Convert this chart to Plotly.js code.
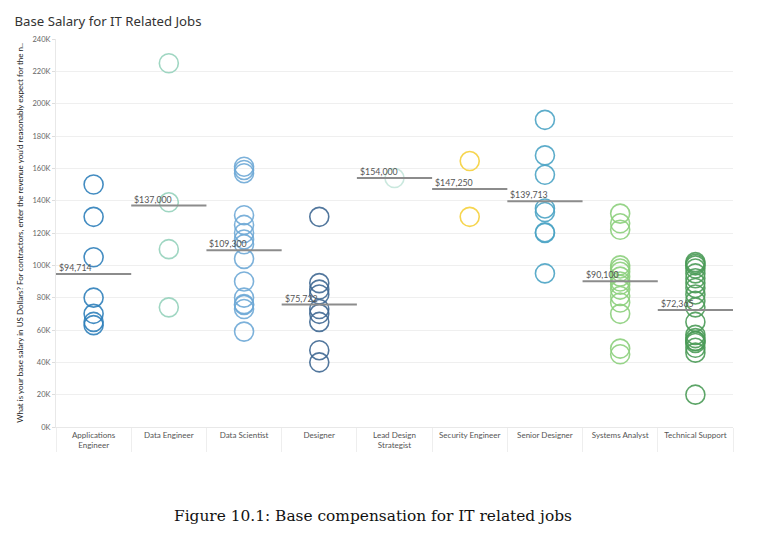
<!DOCTYPE html>
<html>
<head>
<meta charset="utf-8">
<script src="https://cdn.plot.ly/plotly-3.0.1.min.js"></script>
<style>
  html, body { margin: 0; padding: 0; background: #ffffff; }
  #chart { width: 765px; height: 550px; }
</style>
</head>
<body>
<div id="chart"></div>
<script>
// ---- Data ----
const categories = ['Applications Engineer', 'Data Engineer', 'Data Scientist', 'Designer',
  'Lead Design Strategist', 'Security Engineer', 'Senior Designer', 'Systems Analyst', 'Technical Support'];
const tickLabels = ['Applications<br>Engineer', 'Data Engineer', 'Data Scientist', 'Designer',
  'Lead Design<br>Strategist', 'Security Engineer', 'Senior Designer', 'Systems Analyst', 'Technical Support'];

const applicationsEngineer = [150000, 130000, 105000, 80000, 70000, 65000, 63000];
const dataEngineer = [225000, 139000, 110000, 74000];
const dataScientist = [161000, 159000, 157000, 131000, 125000, 120000, 116000, 113000, 104000,
  90000, 80000, 76000, 75500, 73000, 59000];
const designer = [130000, 89000, 85000, 82000, 73000, 70000, 65000, 47500, 40000];
const leadDesignStrategist = [154000];
const securityEngineer = [164500, 130000];
const seniorDesigner = [190000, 168000, 156000, 135200, 133000, 120000, 120500, 95000];
const systemsAnalyst = [132000, 126000, 122000, 100000, 98000, 96000, 93000, 90000, 88000,
  85000, 81000, 77000, 70000, 48500, 45000];
const technicalSupport = [102000, 101000, 100000, 98000, 95000, 92000, 89000, 86000, 82000,
  78000, 74000, 65000, 57000, 55000, 53300, 52000, 49000, 46000, 53000, 20000];

const seriesValues = [applicationsEngineer, dataEngineer, dataScientist, designer,
  leadDesignStrategist, securityEngineer, seniorDesigner, systemsAnalyst, technicalSupport];

const yTickValues = [0, 20000, 40000, 60000, 80000, 100000, 120000, 140000, 160000, 180000, 200000, 220000, 240000];
const yTickLabels = ['0K', '20K', '40K', '60K', '80K', '100K', '120K', '140K', '160K', '180K', '200K', '220K', '240K'];

// ---- Styles ----
const colors = ['#2f7fba', '#95d2bb', '#6ea8d6', '#3f6892', '#c4e6da', '#f5d03c', '#4aa3c4', '#8ccf7c', '#4b9b58'];

const traces = [];
const annotations = [];
const catIndex = categories.map((c, i) => i);

seriesValues.forEach((vals, i) => {
  traces.push({
    type: 'scatter', mode: 'markers', name: categories[i],
    x: vals.map(() => i), y: vals,
    marker: { symbol: 'circle-open', size: 19, color: colors[i], opacity: 0.9, line: { width: 1.6, color: colors[i] } },
    hoverinfo: 'y', showlegend: false
  });
});

seriesValues.forEach((vals, i) => {
  const mean = vals.reduce((a, b) => a + b, 0) / vals.length;
  traces.push({
    type: 'scatter', mode: 'lines', name: categories[i] + ' average',
    x: [i - 0.5, i + 0.5], y: [mean, mean],
    line: { color: '#8c8c8c', width: 2 },
    hoverinfo: 'skip', showlegend: false
  });
  annotations.push({
    x: i - 0.5, y: mean, xref: 'x', yref: 'y', xanchor: 'left', yanchor: 'bottom',
    text: '$' + Math.round(mean).toLocaleString('en-US'),
    showarrow: false, xshift: 1, yshift: -1,
    font: { family: 'Lato, Noto Sans, sans-serif', size: 8.8, color: '#555555' }
  });
});

annotations.push({
  xref: 'paper', yref: 'paper', x: 0.468, y: -0.229, xanchor: 'center', yanchor: 'middle',
  text: 'Figure 10.1: Base compensation for IT related jobs', showarrow: false,
  font: { family: 'DejaVu Serif, serif', size: 15.4, color: '#111111' }
});

const layout = {
  width: 765, height: 550,
  margin: { l: 56, r: 32, t: 39, b: 123 },
  paper_bgcolor: '#ffffff', plot_bgcolor: '#ffffff',
  title: {
    text: 'Base Salary for IT Related Jobs',
    xref: 'container', yref: 'container', x: 0.019, xanchor: 'left', y: 0.962, yanchor: 'middle',
    font: { family: 'Noto Sans, sans-serif', size: 13.2, color: '#333333' }
  },
  xaxis: {
    range: [-0.5, 8.5], tickmode: 'array', tickvals: catIndex, ticktext: tickLabels,
    showgrid: false, zeroline: false, showline: true, linecolor: '#e8e8e8', linewidth: 1,
    ticks: '', tickfont: { family: 'Lato, Noto Sans, sans-serif', size: 8, color: '#555555' },
    minor: { tickmode: 'linear', tick0: 0.5, dtick: 1, ticks: 'outside', ticklen: 24, tickcolor: '#eeeeee', showgrid: false },
    fixedrange: true
  },
  yaxis: {
    range: [0, 240000], tickmode: 'array', tickvals: yTickValues, ticktext: yTickLabels,
    showgrid: true, gridcolor: '#efefef', gridwidth: 1, zeroline: false,
    showline: true, linecolor: '#e8e8e8', ticks: 'outside', ticklen: 3, tickcolor: '#dddddd',
    tickfont: { family: 'Lato, Noto Sans, sans-serif', size: 7.5, color: '#666666' },
    title: {
      text: "What is your base salary in US Dollars? For contractors, enter the revenue you'd reasonably expect for the n..",
      font: { family: 'Lato, Noto Sans, sans-serif', size: 8.0, color: '#222222' }, standoff: 7
    },
    automargin: false, fixedrange: true
  },
  annotations: annotations,
  hovermode: 'closest'
};

Plotly.newPlot('chart', traces, layout, { displayModeBar: false, staticPlot: false });
</script>
</body>
</html>
